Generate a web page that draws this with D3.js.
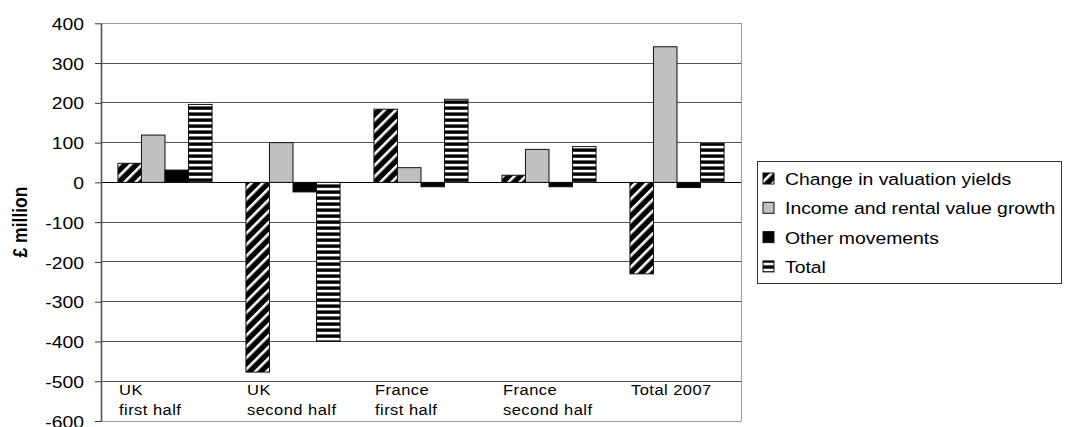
<!DOCTYPE html>
<html>
<head>
<meta charset="utf-8">
<script src="https://cdn.jsdelivr.net/npm/d3@7"></script>
<style>
  html, body { margin: 0; padding: 0; background: #fff; }
  svg { display: block; font-family: "Liberation Sans", Arial, sans-serif; }
</style>
</head>
<body>
<svg id="chart" width="1065" height="427"></svg>
<script>
// Property valuation movement by period (£ million)
const categories = ["UK first half", "UK second half", "France first half", "France second half", "Total 2007"];
const categoryLines = [["UK", "first half"], ["UK", "second half"], ["France", "first half"], ["France", "second half"], ["Total 2007"]];
const seriesNames = ["Change in valuation yields", "Income and rental value growth", "Other movements", "Total"];
const valuationYields = [48, -477, 184, 18, -230];
const incomeRental = [119, 100, 37, 83, 341];
const otherMovements = [31, -24, -11, -11, -13];
const totals = [196, -400, 209, 90, 98];
const yTicks = [400, 300, 200, 100, 0, -100, -200, -300, -400, -500, -600];
const yTitle = "£ million";

const seriesValues = [valuationYields, incomeRental, otherMovements, totals];
const fills = ["url(#diag)", "#c0c0c0", "#000000", "url(#hstripe)"];

const svg = d3.select("#chart");
const plot = { left: 101, right: 741, top: 23.3, bottom: 421 };
const TX = 1.14; // horizontal text widening

// Fill patterns
const defs = svg.append("defs");
const diag = defs.append("pattern")
  .attr("id", "diag").attr("patternUnits", "userSpaceOnUse")
  .attr("width", 8).attr("height", 8)
  .attr("patternTransform", "rotate(-45)");
diag.append("rect").attr("width", 8).attr("height", 8).attr("fill", "#000");
diag.append("rect").attr("y", 0).attr("width", 8).attr("height", 2.6).attr("fill", "#fff");

const hs = defs.append("pattern")
  .attr("id", "hstripe").attr("patternUnits", "userSpaceOnUse")
  .attr("width", 6).attr("height", 6);
hs.append("rect").attr("width", 6).attr("height", 6).attr("fill", "#000");
hs.append("rect").attr("y", 1.8).attr("width", 6).attr("height", 2.6).attr("fill", "#fff");

// Scales
const x0 = d3.scaleBand().domain(categories).range([plot.left, plot.right]).paddingInner(0).paddingOuter(0);
const x1 = d3.scaleBand().domain(seriesNames).range([0, x0.bandwidth()]).paddingInner(0).paddingOuter(0.72);
const y = d3.scaleLinear().domain([-600, 400]).range([plot.bottom, plot.top]);

// Gridlines
svg.append("g").selectAll("line")
  .data(yTicks)
  .join("line")
  .attr("x1", plot.left).attr("x2", plot.right)
  .attr("y1", d => y(d)).attr("y2", d => y(d))
  .attr("stroke", d => d === 0 ? "#000" : (d === 400 || d === -600 ? "#999" : "#555"))
  .attr("stroke-width", 1)
  .attr("shape-rendering", "crispEdges");

// Right border of plot area
svg.append("line")
  .attr("x1", plot.right).attr("x2", plot.right)
  .attr("y1", plot.top).attr("y2", plot.bottom)
  .attr("stroke", "#999").attr("shape-rendering", "crispEdges");

// Bars
const groups = svg.append("g").selectAll("g")
  .data(categories)
  .join("g")
  .attr("transform", d => `translate(${x0(d)},0)`);

groups.selectAll("rect")
  .data((c, ci) => seriesNames.map((s, si) => ({ s, si, v: seriesValues[si][ci] })))
  .join("rect")
  .attr("x", d => x1(d.s))
  .attr("width", x1.bandwidth())
  .attr("y", d => y(Math.max(0, d.v)))
  .attr("height", d => Math.abs(y(d.v) - y(0)))
  .attr("fill", d => fills[d.si])
  .attr("stroke", "#111")
  .attr("stroke-width", 1);

// Y axis (plain hyphen-minus labels)
const yAxis = svg.append("g")
  .attr("transform", `translate(${plot.left},0)`)
  .call(d3.axisLeft(y).tickValues(yTicks).tickSize(6).tickSizeOuter(0).tickFormat(d => String(d)));
yAxis.select(".domain").attr("stroke", "#555").attr("stroke-width", 1.6);
yAxis.selectAll(".tick line").attr("stroke", "#333");
yAxis.selectAll(".tick text")
  .attr("x", -17 / TX)
  .attr("dy", "0.36em")
  .attr("transform", `scale(${TX},1)`)
  .attr("font-size", 17)
  .attr("font-family", "Liberation Sans, Arial, sans-serif")
  .attr("fill", "#000");

// Category labels inside the plot bottom
const catLabels = svg.append("g").selectAll("text")
  .data(categories)
  .join("text")
  .attr("transform", d => `translate(${x0(d) + 18},395) scale(${TX},1)`)
  .attr("font-size", 14.5)
  .attr("letter-spacing", 0.4)
  .attr("fill", "#000");
catLabels.each(function (d, i) {
  d3.select(this).selectAll("tspan")
    .data(categoryLines[i])
    .join("tspan")
    .attr("x", 0)
    .attr("dy", (t, j) => j === 0 ? 0 : 20)
    .text(t => t);
});

// Y axis title
svg.append("text")
  .attr("transform", `translate(20,222) scale(${TX},1) rotate(-90)`)
  .attr("text-anchor", "middle")
  .attr("dominant-baseline", "central")
  .attr("font-size", 17.5)
  .attr("font-weight", "bold")
  .text(yTitle);

// Legend
const legend = svg.append("g");
legend.append("rect")
  .attr("x", 757).attr("y", 161)
  .attr("width", 304).attr("height", 122)
  .attr("fill", "#fff").attr("stroke", "#333").attr("stroke-width", 1)
  .attr("shape-rendering", "crispEdges");
const items = legend.selectAll("g.item")
  .data(seriesNames)
  .join("g")
  .attr("class", "item")
  .attr("transform", (d, i) => `translate(0,${185 + i * 29.3})`);
items.append("rect")
  .attr("x", 763).attr("y", -12)
  .attr("width", 11).attr("height", 11)
  .attr("fill", (d, i) => fills[i])
  .attr("stroke", "#111");
items.append("text")
  .attr("transform", `translate(785,0) scale(${TX},1)`)
  .attr("font-size", 17)
  .attr("fill", "#000")
  .text(d => d);
</script>
</body>
</html>
